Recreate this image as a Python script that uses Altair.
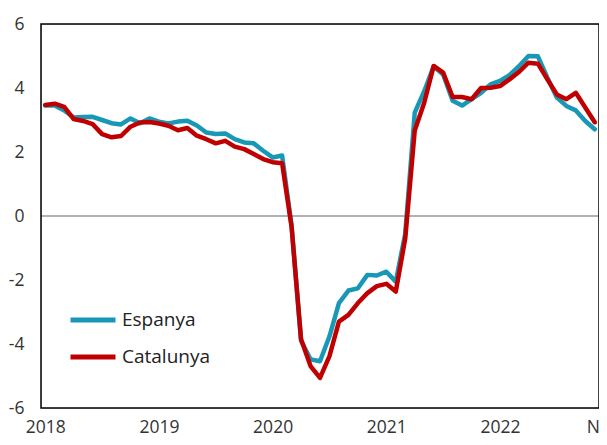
import altair as alt
import pandas as pd

# Monthly series, Jan 2018 .. Nov 2022 (59 months)
months = pd.date_range("2018-01-01", "2022-11-01", freq="MS").strftime("%Y-%m").tolist()

espanya = [
    3.45, 3.45, 3.30, 3.08, 3.09, 3.10, 3.00, 2.90, 2.86, 3.05, 2.90, 3.05,
    2.95, 2.89, 2.95, 2.98, 2.83, 2.61, 2.56, 2.58, 2.40, 2.30, 2.27, 2.04,
    1.83, 1.89, -0.30, -3.90, -4.48, -4.54, -3.76, -2.72, -2.33, -2.26, -1.84, -1.86,
    -1.74, -2.05, -0.55, 3.23, 3.90, 4.68, 4.42, 3.60, 3.45, 3.65, 3.85, 4.11,
    4.22, 4.40, 4.68, 5.00, 4.99, 4.32, 3.70, 3.44, 3.30, 2.97, 2.71,
]
catalunya = [
    3.47, 3.51, 3.41, 3.03, 2.97, 2.87, 2.56, 2.46, 2.50, 2.79, 2.92, 2.94,
    2.89, 2.82, 2.68, 2.75, 2.51, 2.40, 2.27, 2.35, 2.17, 2.09, 1.94, 1.78,
    1.68, 1.65, -0.34, -3.85, -4.69, -5.06, -4.38, -3.30, -3.09, -2.72, -2.41, -2.19,
    -2.12, -2.36, -0.70, 2.67, 3.54, 4.69, 4.48, 3.72, 3.72, 3.65, 4.00, 4.01,
    4.06, 4.27, 4.50, 4.79, 4.76, 4.27, 3.80, 3.65, 3.85, 3.39, 2.93,
]
series_names = ["Espanya", "Catalunya"]
series_colors = ["#1898b5", "#c00000"]
x_tick_index = [0, 12, 24, 36, 48, 58]
y_ticks = [-6, -4, -2, 0, 2, 4, 6]
x_domain = [-0.45, 58.45]
y_domain = [-6, 6]

rows = []
for name, vals in zip(series_names, [espanya, catalunya]):
    for i, (m, v) in enumerate(zip(months, vals)):
        rows.append({"serie": name, "mes": m, "t": i, "valor": v})
df = pd.DataFrame(rows)

FONT = "Open Sans"
xs = alt.Scale(domain=x_domain, nice=False, zero=False)
ys = alt.Scale(domain=y_domain, nice=False)

x_axis = alt.Axis(
    values=x_tick_index,
    labelExpr="datum.value == 58 ? 'N' : toString(2018 + datum.value / 12)",
    title=None, grid=False, ticks=False, domain=False,
    labelFont=FONT, labelFontSize=17.5, labelColor="#333333",
    labelPadding=10, labelFlush=False,
    labelOffset=alt.condition("datum.value == 58", alt.value(-2), alt.value(0)),
)
y_axis = alt.Axis(
    values=y_ticks, title=None, grid=False, ticks=False, domain=False,
    labelExpr="toString(datum.value)",
    labelFont=FONT, labelFontSize=17.5, labelColor="#333333",
    labelPadding=17,
)

x_enc = alt.X("t:Q", scale=xs, axis=x_axis)
y_enc = alt.Y("valor:Q", scale=ys, axis=y_axis)
color_enc = alt.Color(
    "serie:N",
    scale=alt.Scale(domain=series_names, range=series_colors),
    legend=alt.Legend(
        orient="none", legendX=27, legendY=281, title=None,
        symbolType="stroke", symbolSize=2025, symbolStrokeWidth=5,
        labelFont=FONT, labelFontSize=19, labelColor="#222222",
        clipHeight=30, rowPadding=7, labelOffset=4, padding=0,
    ),
)

zero = alt.Chart(pd.DataFrame({"z": [0]})).mark_rule(
    color="#666666", strokeWidth=1.2
).encode(y=alt.Y("z:Q", scale=ys, axis=y_axis))

frame = alt.Chart(pd.DataFrame({"x0": [x_domain[0]], "x1": [x_domain[1]],
                                "y0": [y_domain[0]], "y1": [y_domain[1]]})).mark_rect(
    fill=None, stroke="black", strokeWidth=1.5
).encode(
    x=alt.X("x0:Q", scale=xs, axis=x_axis), x2="x1:Q",
    y=alt.Y("y0:Q", scale=ys, axis=y_axis), y2="y1:Q",
)

line_es = alt.Chart(df[df.serie == "Espanya"]).mark_line(
    strokeWidth=4.5, strokeJoin="round", strokeCap="round"
).encode(x=x_enc, y=y_enc, color=color_enc)

line_ca = alt.Chart(df[df.serie == "Catalunya"]).mark_line(
    strokeWidth=4.5, strokeJoin="round", strokeCap="round"
).encode(x=x_enc, y=y_enc, color=color_enc)

chart = alt.layer(zero, line_es, line_ca, frame).properties(
    width=558, height=384,
    padding={"left": 33, "top": 16, "right": 0, "bottom": 29},
    autosize="none",
).configure_view(stroke="black", strokeWidth=1.5).configure(background="white")

chart.save("out.html", embed_options={"renderer": "svg", "actions": False})
